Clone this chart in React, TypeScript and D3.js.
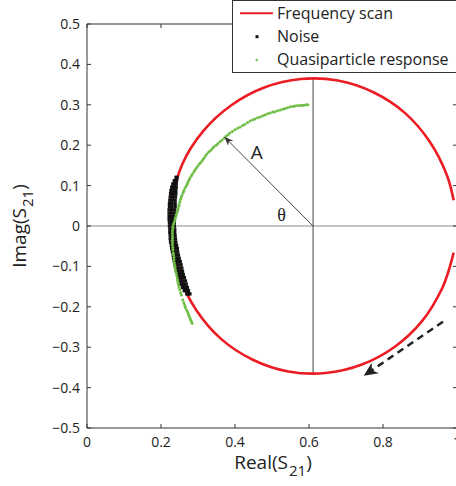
import React from "react";
import * as d3 from "d3";

// ---- data ----
const xTicks = [0, 0.2, 0.4, 0.6, 0.8, 1];
const xTickLabels = ["0", "0.2", "0.4", "0.6", "0.8", "1"];
const yTicks = [0.5, 0.4, 0.3, 0.2, 0.1, 0, -0.1, -0.2, -0.3, -0.4, -0.5];
const yTickLabels = ["0.5", "0.4", "0.3", "0.2", "0.1", "0", "\u22120.1", "\u22120.2", "\u22120.3", "\u22120.4", "\u22120.5"];

// frequency scan (red), traced clockwise from lower right
const scanRe = [0.991, 0.977, 0.960, 0.906, 0.832, 0.743, 0.645, 0.544, 0.448, 0.363, 0.296, 0.250, 0.228, 0.231, 0.258, 0.314, 0.390, 0.479, 0.578, 0.678, 0.774, 0.859, 0.926, 0.973, 0.991];
const scanIm = [-0.066, -0.112, -0.154, -0.235, -0.299, -0.343, -0.364, -0.360, -0.331, -0.280, -0.209, -0.125, -0.032, 0.063, 0.154, 0.235, 0.299, 0.343, 0.364, 0.360, 0.331, 0.280, 0.209, 0.125, 0.064];

// noise (black): rows of Im with left / middle / right Re values of the band
const noiseIm = [0.120, 0.112, 0.104, 0.096, 0.088, 0.080, 0.072, 0.064, 0.056, 0.048, 0.040, 0.032, 0.024, 0.016, 0.008, 0.000, -0.008, -0.016, -0.024, -0.032, -0.040, -0.048, -0.056, -0.064, -0.072, -0.080, -0.088, -0.096, -0.104, -0.112, -0.120, -0.128, -0.136, -0.144, -0.152, -0.160, -0.168];
const noiseReLeft = [0.241, 0.236, 0.232, 0.229, 0.227, 0.226, 0.225, 0.224, 0.223, 0.223, 0.222, 0.222, 0.222, 0.222, 0.223, 0.223, 0.224, 0.224, 0.225, 0.225, 0.226, 0.228, 0.229, 0.231, 0.233, 0.234, 0.236, 0.238, 0.240, 0.242, 0.245, 0.247, 0.250, 0.254, 0.258, 0.263, 0.270];
const noiseReMid = [0.242, 0.239, 0.236, 0.234, 0.233, 0.232, 0.231, 0.230, 0.229, 0.229, 0.229, 0.228, 0.228, 0.228, 0.229, 0.229, 0.230, 0.231, 0.232, 0.233, 0.234, 0.235, 0.236, 0.238, 0.240, 0.242, 0.244, 0.246, 0.248, 0.250, 0.252, 0.255, 0.258, 0.261, 0.265, 0.268, 0.274];
const noiseReRight = [0.243, 0.242, 0.241, 0.241, 0.240, 0.240, 0.239, 0.238, 0.238, 0.238, 0.237, 0.237, 0.237, 0.236, 0.236, 0.236, 0.237, 0.237, 0.238, 0.239, 0.240, 0.242, 0.244, 0.245, 0.247, 0.249, 0.252, 0.254, 0.256, 0.258, 0.260, 0.263, 0.266, 0.268, 0.271, 0.274, 0.278];

// quasiparticle response (green)
const qpRe = [0.597, 0.592, 0.586, 0.581, 0.576, 0.569, 0.562, 0.556, 0.549, 0.542, 0.535, 0.529, 0.522, 0.515, 0.508, 0.502, 0.495, 0.488, 0.481, 0.475, 0.468, 0.461, 0.454, 0.448, 0.441, 0.434, 0.427, 0.421, 0.414, 0.407, 0.400, 0.393, 0.386, 0.381, 0.376, 0.371, 0.365, 0.360, 0.354, 0.349, 0.343, 0.339, 0.334, 0.329, 0.324, 0.320, 0.316, 0.312, 0.308, 0.304, 0.300, 0.296, 0.292, 0.289, 0.285, 0.282, 0.278, 0.276, 0.273, 0.271, 0.268, 0.265, 0.262, 0.260, 0.257, 0.255, 0.253, 0.251, 0.249, 0.248, 0.246, 0.245, 0.243, 0.241, 0.239, 0.238, 0.236, 0.234, 0.232, 0.232, 0.231, 0.231, 0.231, 0.231, 0.231, 0.231, 0.231, 0.232, 0.232, 0.233, 0.234, 0.235, 0.235, 0.236, 0.237, 0.238, 0.239, 0.241, 0.242, 0.244, 0.245, 0.246, 0.247, 0.249, 0.251, 0.253, 0.255, 0.259, 0.262, 0.264, 0.266, 0.269, 0.272, 0.274, 0.276, 0.278, 0.280, 0.282, 0.284];
const qpIm = [0.300, 0.300, 0.299, 0.299, 0.298, 0.298, 0.297, 0.296, 0.295, 0.293, 0.291, 0.289, 0.287, 0.285, 0.283, 0.282, 0.280, 0.278, 0.275, 0.273, 0.270, 0.268, 0.265, 0.263, 0.260, 0.256, 0.252, 0.249, 0.245, 0.242, 0.238, 0.234, 0.230, 0.226, 0.222, 0.218, 0.213, 0.209, 0.204, 0.200, 0.196, 0.192, 0.187, 0.183, 0.178, 0.173, 0.168, 0.163, 0.158, 0.154, 0.149, 0.144, 0.139, 0.134, 0.129, 0.124, 0.119, 0.114, 0.109, 0.104, 0.099, 0.094, 0.088, 0.083, 0.077, 0.072, 0.066, 0.060, 0.054, 0.049, 0.043, 0.038, 0.032, 0.027, 0.021, 0.016, 0.010, 0.005, -0.001, -0.006, -0.012, -0.018, -0.024, -0.030, -0.035, -0.041, -0.047, -0.053, -0.059, -0.066, -0.072, -0.078, -0.084, -0.091, -0.097, -0.103, -0.109, -0.115, -0.121, -0.128, -0.134, -0.140, -0.146, -0.152, -0.158, -0.165, -0.171, -0.183, -0.190, -0.196, -0.202, -0.208, -0.213, -0.218, -0.223, -0.228, -0.232, -0.236, -0.241, -0.245];

// annotations
const centerRe = 0.611;
const centerImTop = 0.366;
const centerImBottom = -0.366;
const ampTip = [0.373, 0.219];
const ampLabelPos = [0.459, 0.184];
const thetaLabelPos = [0.526, 0.027];
const dirArrowFrom = [0.962, -0.237];
const dirArrowTo = [0.751, -0.369];

const legendLabels = ["Frequency scan", "Noise", "Quasiparticle response"];

const RED = "#ec1c24";
const GREEN = "#6fbe46";
const AXIS = "#333";
const FONT = "'Open Sans', 'Noto Sans', sans-serif";

export default function App() {
  const W = 456, H = 486;
  const x = d3.scaleLinear().domain([0, 1]).range([87, 457]);
  const y = d3.scaleLinear().domain([-0.5, 0.5]).range([428, 24]);

  const scanPts: [number, number][] = scanRe.map((r, i) => [x(r), y(scanIm[i])]);
  const line = d3.line().curve(d3.curveCatmullRom.alpha(0.5));
  const scanPath = line(scanPts) || "";

  const noisePts: [number, number][] = [];
  noiseIm.forEach((im, i) => {
    noisePts.push([noiseReLeft[i], im], [noiseReMid[i], im], [noiseReRight[i], im]);
  });

  const cx = x(centerRe), cy = y(0);
  const tickLen = 4;

  return (
    <svg width={W} height={H} style={{ position: "absolute", left: 0, top: 0, background: "#fff" }} fontFamily={FONT}>
      <defs>
        <marker id="ah" viewBox="0 0 10 10" refX="9" refY="5" markerWidth="9" markerHeight="9" orient="auto" markerUnits="userSpaceOnUse">
          <path d="M0,1 L10,5 L0,9 L3,5 Z" fill="#333" />
        </marker>
        <marker id="ah2" viewBox="0 0 10 10" refX="9" refY="5" markerWidth="14" markerHeight="14" orient="auto" markerUnits="userSpaceOnUse">
          <path d="M0,0.5 L10,5 L0,9.5 L3,5 Z" fill="#222" />
        </marker>
      </defs>

      {/* zero line */}
      <line x1={x(0)} x2={x(1)} y1={cy} y2={cy} stroke="#8a8a8a" strokeWidth={1.2} />
      {/* vertical centre line */}
      <line x1={cx} x2={cx} y1={y(centerImTop)} y2={y(centerImBottom)} stroke="#444" strokeWidth={1} />

      {/* axes box */}
      <line x1={x(0)} x2={x(0)} y1={y(0.5)} y2={y(-0.5)} stroke={AXIS} strokeWidth={1} />
      <line x1={x(0)} x2={x(1)} y1={y(-0.5)} y2={y(-0.5)} stroke={AXIS} strokeWidth={1} />
      <line x1={x(0)} x2={x(1)} y1={y(0.5)} y2={y(0.5)} stroke={AXIS} strokeWidth={1} />
      <line x1={x(1)} x2={x(1)} y1={y(0.5)} y2={y(-0.5)} stroke={AXIS} strokeWidth={1} />

      {xTicks.map((t, i) => (
        <g key={"xt" + i}>
          <line x1={x(t)} x2={x(t)} y1={y(-0.5)} y2={y(-0.5) - tickLen} stroke={AXIS} />
          <line x1={x(t)} x2={x(t)} y1={y(0.5)} y2={y(0.5) + tickLen} stroke={AXIS} />
          <text x={x(t)} y={447} fontSize={14} textAnchor="middle" fill="#222">{xTickLabels[i]}</text>
        </g>
      ))}
      {yTicks.map((t, i) => (
        <g key={"yt" + i}>
          <line x1={x(0)} x2={x(0) + tickLen} y1={y(t)} y2={y(t)} stroke={AXIS} />
          <line x1={x(1)} x2={x(1) - tickLen} y1={y(t)} y2={y(t)} stroke={AXIS} />
          <text x={80} y={y(t) + 5} fontSize={14} textAnchor="end" fill="#222">{yTickLabels[i]}</text>
        </g>
      ))}

      {/* axis titles */}
      <text x={273} y={469} fontSize={19} textAnchor="middle" fill="#222">
        Real(S<tspan dx={1} dy={7} fontSize={15}>21</tspan><tspan dy={-7}>)</tspan>
      </text>
      <text transform={`translate(26,226) rotate(-90)`} fontSize={19} textAnchor="middle" fill="#222">
        Imag(S<tspan dx={1} dy={7} fontSize={15}>21</tspan><tspan dy={-7}>)</tspan>
      </text>

      {/* frequency scan */}
      <path d={scanPath} fill="none" stroke={RED} strokeWidth={2.6} />

      {/* noise */}
      {noisePts.map((p, i) => (
        <rect key={"n" + i} x={x(p[0]) - 1.7} y={y(p[1]) - 1.7} width={3.4} height={3.4} fill="#111" />
      ))}

      {/* quasiparticle response */}
      {qpRe.map((r, i) => (
        <circle key={"q" + i} cx={x(r)} cy={y(qpIm[i])} r={1.5} fill={GREEN} />
      ))}

      {/* amplitude arrow */}
      <line x1={cx} y1={cy} x2={x(ampTip[0])} y2={y(ampTip[1])} stroke="#444" strokeWidth={1} markerEnd="url(#ah)" />
      <text x={x(ampLabelPos[0])} y={y(ampLabelPos[1]) + 7} fontSize={19} textAnchor="middle" fill="#222">A</text>
      <text x={x(thetaLabelPos[0])} y={y(thetaLabelPos[1]) + 6} fontSize={18} textAnchor="middle" fill="#222" fontFamily="'Liberation Serif', 'DejaVu Serif', serif">θ</text>

      {/* direction arrow */}
      <line x1={x(dirArrowFrom[0])} y1={y(dirArrowFrom[1])} x2={x(dirArrowTo[0])} y2={y(dirArrowTo[1])} stroke="#222" strokeWidth={2.5} strokeDasharray="7,5" markerEnd="url(#ah2)" />

      {/* legend */}
      <rect x={232.5} y={0.5} width={240} height={72} fill="#fff" stroke={AXIS} strokeWidth={1} />
      <line x1={240} x2={273} y1={13.3} y2={13.3} stroke={RED} strokeWidth={2} />
      <rect x={255.5} y={35.2} width={3} height={3} fill="#111" />
      <circle cx={256.7} cy={60} r={1.2} fill={GREEN} />
      {legendLabels.map((l, i) => (
        <text key={"lg" + i} x={277} y={13.3 + i * 23.3 + 5.5} fontSize={16} fill="#222">{l}</text>
      ))}
    </svg>
  );
}
